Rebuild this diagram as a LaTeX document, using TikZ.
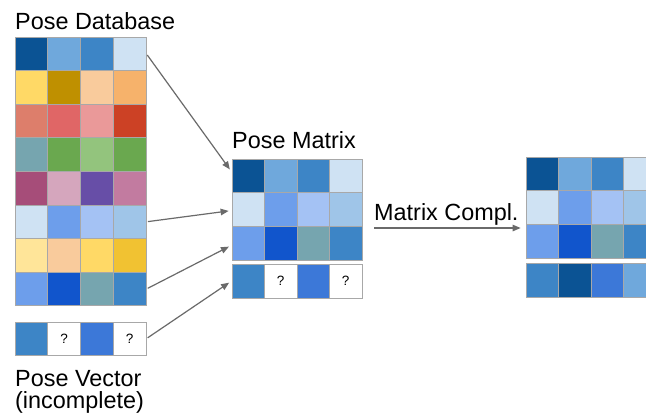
\documentclass[tikz,border=0pt]{standalone}
\usepackage{fontspec}
\setmainfont{Liberation Sans}
\usetikzlibrary{arrows.meta}
\definecolor{dblue}{HTML}{0B5394}
\definecolor{lblue}{HTML}{6FA8DC}
\definecolor{mblue}{HTML}{3D85C6}
\definecolor{pblue}{HTML}{CFE2F3}
\definecolor{yel}{HTML}{FFD966}
\definecolor{gold}{HTML}{BF9000}
\definecolor{peach}{HTML}{F9CB9C}
\definecolor{orng}{HTML}{F6B26B}
\definecolor{salm}{HTML}{DD7E6B}
\definecolor{redd}{HTML}{E06666}
\definecolor{pinkk}{HTML}{EA9999}
\definecolor{dred}{HTML}{CC4125}
\definecolor{teal}{HTML}{76A5AF}
\definecolor{grn}{HTML}{6AA84F}
\definecolor{lgrn}{HTML}{93C47D}
\definecolor{plum}{HTML}{A64D79}
\definecolor{lpur}{HTML}{D5A6BD}
\definecolor{purp}{HTML}{674EA7}
\definecolor{magn}{HTML}{C27BA0}
\definecolor{cblue}{HTML}{6D9EEB}
\definecolor{sblue}{HTML}{A4C2F4}
\definecolor{skyb}{HTML}{9FC5E8}
\definecolor{lyel}{HTML}{FFE599}
\definecolor{gold2}{HTML}{F1C232}
\definecolor{rblue}{HTML}{1155CC}
\definecolor{bblue}{HTML}{3C78D8}
\definecolor{gridgray}{HTML}{A8A8A8}
\definecolor{arrgray}{HTML}{6A6A6A}
\tikzset{
  cell/.style={draw=gridgray, line width=0.8pt, inner sep=0pt, font=\fontsize{13.5}{15}\selectfont},
  lbl/.style={font=\fontsize{23.4}{26}\selectfont, inner sep=0pt, anchor=base west},
  arr/.style={draw=arrgray, line width=1.2pt, -{Triangle[length=8pt,width=6.5pt]}, shorten >=3pt, shorten <=1.5pt}
}
\newcommand\gridrow[6]{%
  \foreach \c/\t [count=\i] in {#6}{%
    \node[cell, fill=\c, minimum width=#4pt, minimum height=#5pt] (#1-\i) at ({#2+(\i-0.5)*#4},{#3+0.5*#5}) {\t};}}
\begin{document}
\begin{tikzpicture}[x=1pt,y=-1pt]
\clip (0,0) rectangle (646,416);
\fill[white] (0,0) rectangle (646,416);
% Pose Database
\node[lbl] (dbl) at (15,29) {Pose Database};
\gridrow{db-1}{15}{37.0}{32.75}{33.6}{dblue/{},lblue/{},mblue/{},pblue/{}}
\gridrow{db-2}{15}{70.6}{32.75}{33.6}{yel/{},gold/{},peach/{},orng/{}}
\gridrow{db-3}{15}{104.2}{32.75}{33.6}{salm/{},redd/{},pinkk/{},dred/{}}
\gridrow{db-4}{15}{137.8}{32.75}{33.6}{teal/{},grn/{},lgrn/{},grn/{}}
\gridrow{db-5}{15}{171.4}{32.75}{33.6}{plum/{},lpur/{},purp/{},magn/{}}
\gridrow{db-6}{15}{205.0}{32.75}{33.6}{pblue/{},cblue/{},sblue/{},skyb/{}}
\gridrow{db-7}{15}{238.6}{32.75}{33.6}{lyel/{},peach/{},yel/{},gold2/{}}
\gridrow{db-8}{15}{272.2}{32.75}{33.6}{cblue/{},rblue/{},teal/{},mblue/{}}
% Pose Vector
\gridrow{pv}{15}{322}{32.75}{33.3}{mblue/{},white/?,bblue/{},white/?}
\node[lbl] (pvl1) at (15,386) {Pose Vector};
\node[lbl] (pvl2) at (15,408) {(incomplete)};
% Pose Matrix
\node[lbl] (pml) at (232,148) {Pose Matrix};
\gridrow{pm-1}{232}{159}{32.5}{33.7}{dblue/{},lblue/{},mblue/{},pblue/{}}
\gridrow{pm-2}{232}{192.7}{32.5}{33.7}{pblue/{},cblue/{},sblue/{},skyb/{}}
\gridrow{pm-3}{232}{226.4}{32.5}{33.7}{cblue/{},rblue/{},teal/{},mblue/{}}
\gridrow{pm-4}{232}{264}{32.5}{34}{mblue/{},white/?,bblue/{},white/?}
% Completed matrix
\gridrow{rm-1}{526}{157}{32.5}{33.7}{dblue/{},lblue/{},mblue/{},pblue/{}}
\gridrow{rm-2}{526}{190.7}{32.5}{33.7}{pblue/{},cblue/{},sblue/{},skyb/{}}
\gridrow{rm-3}{526}{224.4}{32.5}{33.7}{cblue/{},rblue/{},teal/{},mblue/{}}
\gridrow{rm-4}{526}{263}{32.5}{34}{mblue/{},dblue/{},bblue/{},lblue/{}}
% Matrix completion
\node[lbl] (mcl) at (374,220) {Matrix Compl.};
\coordinate (mcs) at (374,228);
\draw[arr, shorten <=0pt, shorten >=5pt] (mcs) -- (mcs -| rm-3-1.west);
% arrows into pose matrix
\draw[arr] (db-1-4.east) -- ([yshift=4pt]pm-1-1.west);
\draw[arr] (db-6-4.east) -- ([yshift=-1pt]pm-2-1.west);
\draw[arr] (db-8-4.east) -- ([yshift=-2pt]pm-3-1.west);
\draw[arr] (pv-4.east) -- (pm-4-1.west);
\end{tikzpicture}
\end{document}
